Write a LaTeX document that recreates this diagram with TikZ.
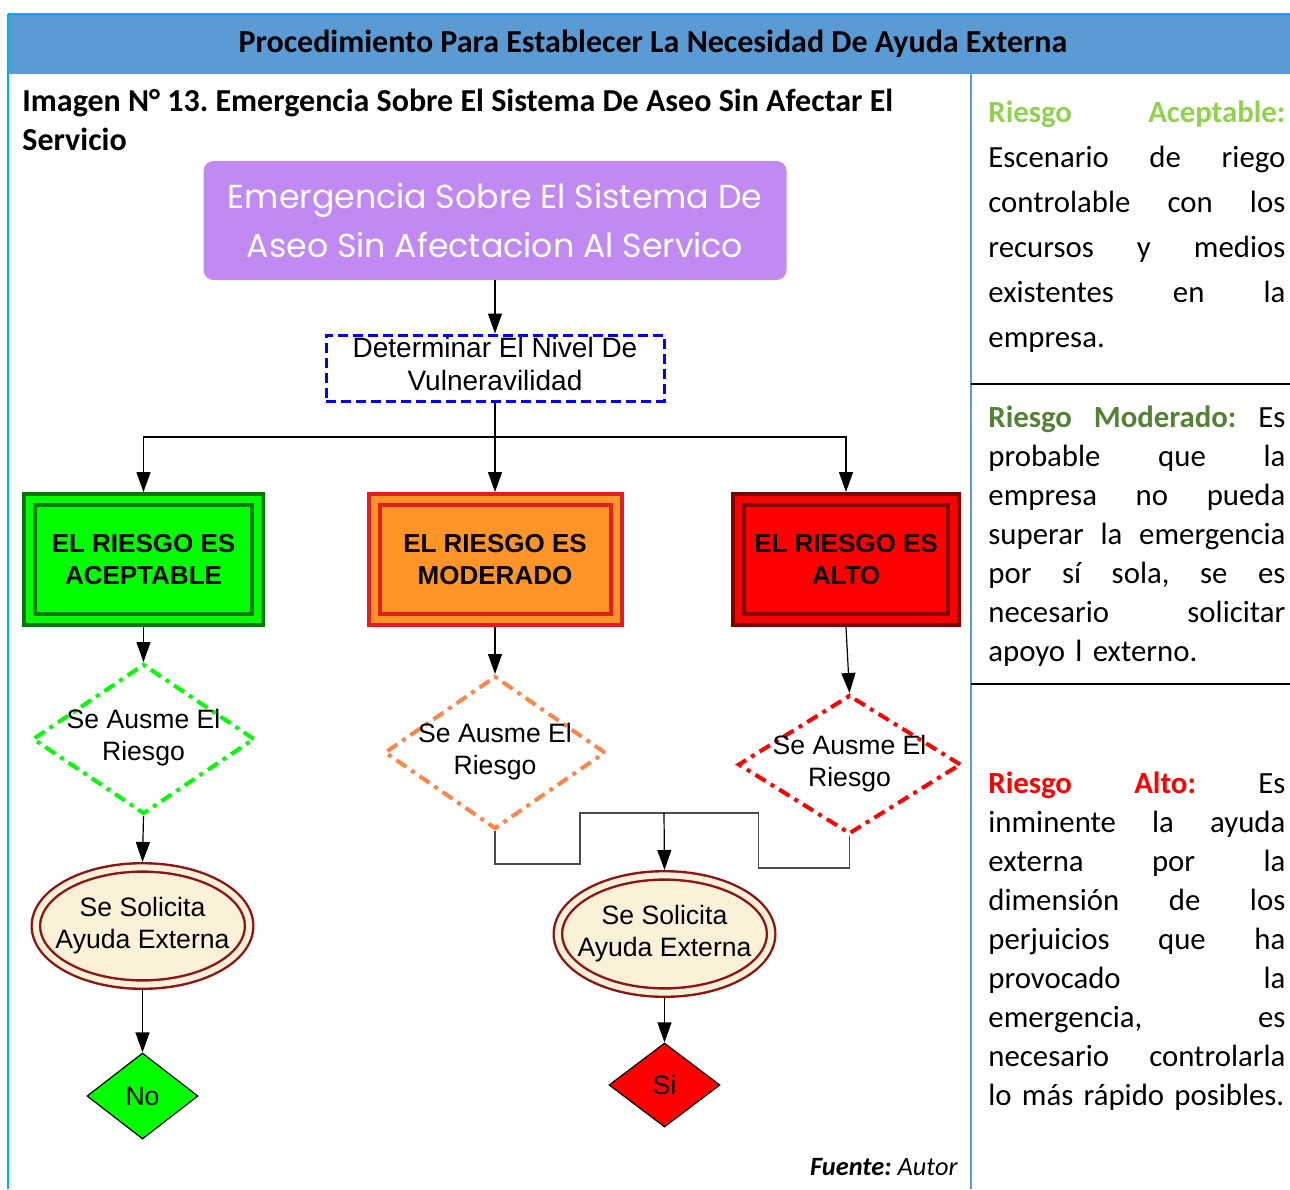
\documentclass[tikz,border=0pt]{standalone}
\usepackage{fontspec}
\setmainfont{Carlito}
\newfontfamily\arialf{Liberation Sans}
\newfontfamily\comicf{Poppins}
\usetikzlibrary{shapes.geometric,arrows.meta}
\frenchspacing

\definecolor{hdrblue}{RGB}{91,155,213}
\definecolor{edgecyan}{RGB}{0,176,240}
\definecolor{lilac}{RGB}{192,138,242}
\definecolor{limegreen}{RGB}{0,255,0}
\definecolor{dkgreen}{RGB}{0,122,0}
\definecolor{orangefill}{RGB}{255,148,40}
\definecolor{orangeedge}{RGB}{224,32,28}
\definecolor{redfill}{RGB}{255,0,0}
\definecolor{dkred}{RGB}{128,0,0}
\definecolor{dashorange}{RGB}{255,133,70}
\definecolor{ellred}{RGB}{140,20,20}
\definecolor{cream}{RGB}{251,240,216}
\definecolor{aceptc}{RGB}{146,208,80}
\definecolor{modc}{RGB}{84,130,53}
\definecolor{altoc}{RGB}{255,0,0}

\newlength\colw
\setlength\colw{148.5pt}
\newcommand\jline[1]{\leavevmode\hbox to\colw{#1}}

\begin{document}
\begin{tikzpicture}[x=0.5pt, y=-0.5pt]
    % Define styles
    \tikzstyle{topbox} = [rectangle, fill=lilac, rounded corners=5pt, minimum width=291.5pt, minimum height=59.5pt, align=center, text=white, font=\comicf\fontsize{16.6}{24.5}\selectfont]
    \tikzstyle{stepbox} = [rectangle, draw=blue, line width=1.5pt, dash pattern=on 5pt off 2.5pt, minimum width=169pt, minimum height=33pt, inner sep=0pt]
    \tikzstyle{riskbox} = [rectangle, line width=2pt, double distance=3.5pt, outer sep=3.75pt, minimum height=60pt, inner sep=0pt, align=center, font=\arialf\bfseries\fontsize{13}{16}\selectfont]
    \tikzstyle{decision} = [diamond, line width=2pt, dash pattern=on 6pt off 3pt on 2pt off 3pt, inner sep=0pt]
    \tikzstyle{request} = [ellipse, draw=ellred, double=cream, double distance=3pt, line width=1.2pt, fill=cream, minimum width=106.6pt, minimum height=58.6pt, inner sep=0pt, outer sep=2.7pt]
    \tikzstyle{answer} = [diamond, draw=black, line width=0.6pt, minimum width=55.5pt, inner sep=0pt]
    \tikzstyle{lbl} = [align=center, font=\arialf\fontsize{13.3}{16}\selectfont]
    \tikzstyle{desc} = [anchor=base west, inner sep=0pt, text width=\colw, align=left]
    \tikzstyle{line} = [draw, line width=0.6pt, -{Triangle[length=10pt, width=7pt]}]
    \tikzstyle{elbow} = [draw, black!70, line width=0.6pt]

    \useasboundingbox (0,0) rectangle (1290,1189);

    % Frame of the table
    \fill[hdrblue] (8,14) rectangle (1290,74);
    \draw[edgecyan, line width=1.5pt] (8,14) -- (1290,14);
    \draw[edgecyan, line width=1pt] (8,14) -- (8,1189);
    \draw[hdrblue, line width=1pt] (971,74) -- (971,1189);
    \draw[line width=0.6pt] (971,384) -- (1290,384);
    \draw[line width=0.6pt] (971,684) -- (1290,684);

    % Titles
    \node [font=\bfseries\fontsize{16}{18}\selectfont] (title) at (653,44) {Procedimiento Para Establecer La Necesidad De Ayuda Externa};
    \node [anchor=base west, inner sep=0pt, align=left, font=\bfseries\fontsize{16}{19.5}\selectfont] (caption) at (22,150) {Imagen N° 13. Emergencia Sobre El Sistema De Aseo Sin Afectar El\\Servicio};
    \node [anchor=base east, inner sep=0pt, font=\itshape\fontsize{13.2}{15}\selectfont] (source) at (958,1175) {\textbf{Fuente:} Autor};

    % Place nodes - flow
    \node [topbox] (emerg) at (495,220.5) {Emergencia Sobre El Sistema De\\Aseo Sin Afectacion Al Servico};
    \node [stepbox, below of=emerg, node distance=73.75pt, label={[lbl, yshift=2pt, font=\arialf\fontsize{14}{16.5}\selectfont]center:{Determinar El Nivel De\\Vulneravilidad}}] (nivel) {};

    % Place nodes - risk levels
    \node [riskbox, below of=nivel, node distance=95.75pt, xshift=-175.75pt, minimum width=114pt, draw=dkgreen, double=limegreen, fill=limegreen] (acept) {EL RIESGO ES\\ACEPTABLE};
    \node [riskbox, below of=nivel, node distance=95.75pt, minimum width=121pt, draw=orangeedge, double=orangefill, fill=orangefill] (moder) {EL RIESGO ES\\MODERADO};
    \node [riskbox, below of=nivel, node distance=95.75pt, xshift=175.5pt, minimum width=107.5pt, draw=dkred, double=redfill, fill=redfill] (alto) {EL RIESGO ES\\ALTO};

    % Place nodes - decisions
    \node [decision, draw=limegreen, below of=acept, node distance=89.75pt, minimum width=111pt, minimum height=75pt, label={[lbl, yshift=0.5pt]center:{Se Ausme El\\Riesgo}}] (dacep) {};
    \node [decision, draw=dashorange, below of=moder, node distance=96.5pt, minimum width=110.5pt, minimum height=76.5pt, label={[lbl, yshift=0.5pt]center:{Se Ausme El\\Riesgo}}] (dmod) {};
    \node [decision, draw=redfill, below of=alto, node distance=102.5pt, xshift=1.75pt, minimum width=111.5pt, minimum height=69.5pt, label={[lbl, yshift=0.5pt]center:{Se Ausme El\\Riesgo}}] (dalto) {};

    % Place nodes - requests and answers
    \node [request, below of=dacep, node distance=93.5pt, xshift=-0.5pt, label={[lbl]center:{Se Solicita\\Ayuda Externa}}] (eno) {};
    \node [request, below of=dmod, node distance=90.75pt, xshift=84.75pt, label={[lbl]center:{Se Solicita\\Ayuda Externa}}] (esi) {};
    \node [answer, fill=limegreen, below of=eno, node distance=85pt, minimum height=43pt, label={[lbl]center:No}] (no) {};
    \node [answer, fill=redfill, below of=esi, node distance=75.5pt, minimum height=42pt, label={[lbl]center:Si}] (si) {};

    \coordinate (split) at (495,437);
    \coordinate (join) at (664,813);

    % Draw edges
    \path [line] (emerg.south) -- (nivel.north);
    \draw [line width=0.6pt] (nivel.south) -- (split);
    \path [line] (split) -| (acept.north);
    \path [line] (split) -- (moder.north);
    \path [line] (split) -| (alto.north);

    \path [line] (acept.south) -- (dacep.north);
    \path [line] (moder.south) -- (dmod.north);
    \path [line] (alto.south) -- (dalto.north);

    \path [line] (dacep.south) -- (eno.north);
    \path [line] (eno.south) -- (no.north);

    \path [elbow] (dmod.south) -- ++(0,33) -- ++(85,0) |- (join);
    \path [elbow] (dalto.south) -- ++(0,32) -- ++(-91,0) |- (join);
    \path [line] (join) -- (esi.north);
    \path [line] (esi.south) -- (si.north);

    % Right column
    \node [desc, font=\fontsize{15.4}{22.5}\selectfont] (txtacept) at (988,122) {%
      \jline{\bfseries\color{aceptc}Riesgo\hfill Aceptable:}\\
      \jline{Escenario\hfill de\hfill riego}\\
      \jline{controlable\hfill con\hfill los}\\
      \jline{recursos\hfill y\hfill medios}\\
      \jline{existentes\hfill en\hfill la}\\
      empresa.};
    \node [desc, font=\fontsize{15.4}{19.5}\selectfont] (txtmoder) at (988,427) {%
      \jline{\textcolor{modc}{\bfseries Riesgo}\hfill\textcolor{modc}{\bfseries Moderado:}\hfill Es}\\
      \jline{probable\hfill que\hfill la}\\
      \jline{empresa\hfill no\hfill pueda}\\
      \jline{superar\hfill la\hfill emergencia}\\
      \jline{por\hfill sí\hfill sola,\hfill se\hfill es}\\
      \jline{necesario\hfill solicitar}\\
      apoyo l externo.};
    \node [desc, font=\fontsize{15.4}{19.5}\selectfont] (txtalto) at (988,793) {%
      \jline{\textcolor{altoc}{\bfseries Riesgo}\hfill\textcolor{altoc}{\bfseries Alto:}\hfill Es}\\
      \jline{inminente\hfill la\hfill ayuda}\\
      \jline{externa\hfill por\hfill la}\\
      \jline{dimensión\hfill de\hfill los}\\
      \jline{perjuicios\hfill que\hfill ha}\\
      \jline{provocado\hfill la}\\
      \jline{emergencia,\hfill es}\\
      \jline{necesario\hfill controlarla}\\
      lo más rápido posibles.};

\end{tikzpicture}
\end{document}
